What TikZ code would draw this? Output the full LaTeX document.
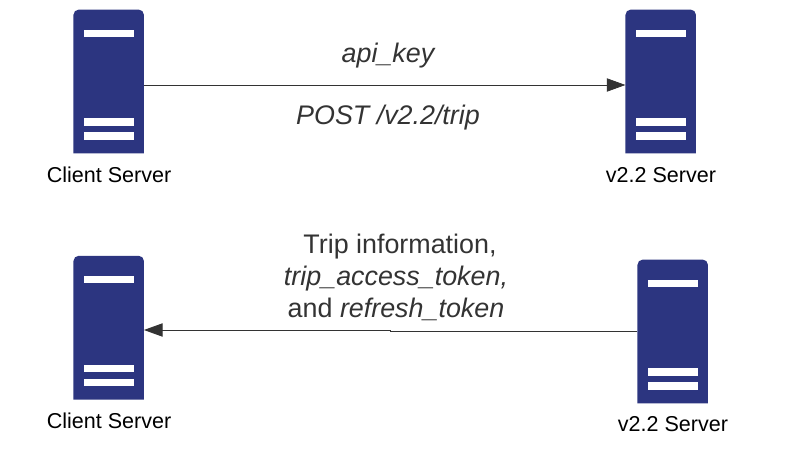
\documentclass[tikz,border=0pt]{standalone}
\usepackage{fontspec}
\setmainfont{Liberation Sans}
\usetikzlibrary{arrows.meta}
\definecolor{servercolor}{HTML}{2C3580}
\definecolor{textcolor}{HTML}{333333}
\tikzset{
	serverbody/.style={inner sep=0pt, minimum width=52.5pt, minimum height=107.5pt},
	serverbar/.style={fill=white, inner sep=0pt, minimum width=37.5pt, minimum height=5.5pt},
	serverlabel/.style={inner sep=0pt, font=\fontsize{16.15}{19}\selectfont},
	msglabel/.style={inner sep=0pt, text=textcolor, align=center, font=\fontsize{20.15}{24}\selectfont},
	msgline/.style={draw=textcolor, line width=0.6pt, -{Triangle[length=14pt, width=10pt]}}
}
% one server icon, #1 is the name and (#2,#3) its centre
\newcommand{\servericon}[3]{
	\node [serverbody] at (#2, #3) (#1) {};
	\fill [servercolor] (#1.south west) [rounded corners=4pt] -- (#1.north west) -- (#1.north east) [sharp corners] -- (#1.south east) -- cycle;
	\node [serverbar] at (#2, #3-48) (#1bara) {};
	\node [serverbar] at (#2, #3+40.5) (#1barb) {};
	\node [serverbar] at (#2, #3+54.5) (#1barc) {};
}
\begin{document}
\begin{tikzpicture}[x=0.75pt, y=-0.75pt]
	\useasboundingbox (0, 0) rectangle (792, 470);

	\servericon{clienttop}{108.7}{81.5}
	\servericon{servertop}{660.7}{81.5}
	\servericon{clientlow}{108.7}{327.7}
	\servericon{serverlow}{672.7}{331.5}

	\node [serverlabel] at (109, 175) (clienttoptext) {Client Server};
	\node [serverlabel] at (661, 175) (servertoptext) {v2.2 Server};
	\node [serverlabel] at (109, 421) (clientlowtext) {Client Server};
	\node [serverlabel] at (673, 424) (serverlowtext) {v2.2 Server};

	\node [msglabel] at (388, 55.5) (apikey) {\itshape api\_key};
	\node [msglabel] at (388, 117.5) (posttrip) {\itshape POST /v2.2/trip};
	\node [msglabel] at (396, 277.5) (tripinfo) {\hspace*{6pt}Trip information,\\\itshape trip\_access\_token,\\and \itshape refresh\_token};

	\coordinate (jogright) at (390, 331);
	\coordinate (jogleft) at (390, 330);

	\draw [msgline] (clienttop.east |- 0, 85) -- (servertop.west |- 0, 85);
	\draw [msgline] (serverlow.west |- jogright) -- (jogright) -- (jogleft) -- (clientlow.east |- jogleft);
\end{tikzpicture}
\end{document}
